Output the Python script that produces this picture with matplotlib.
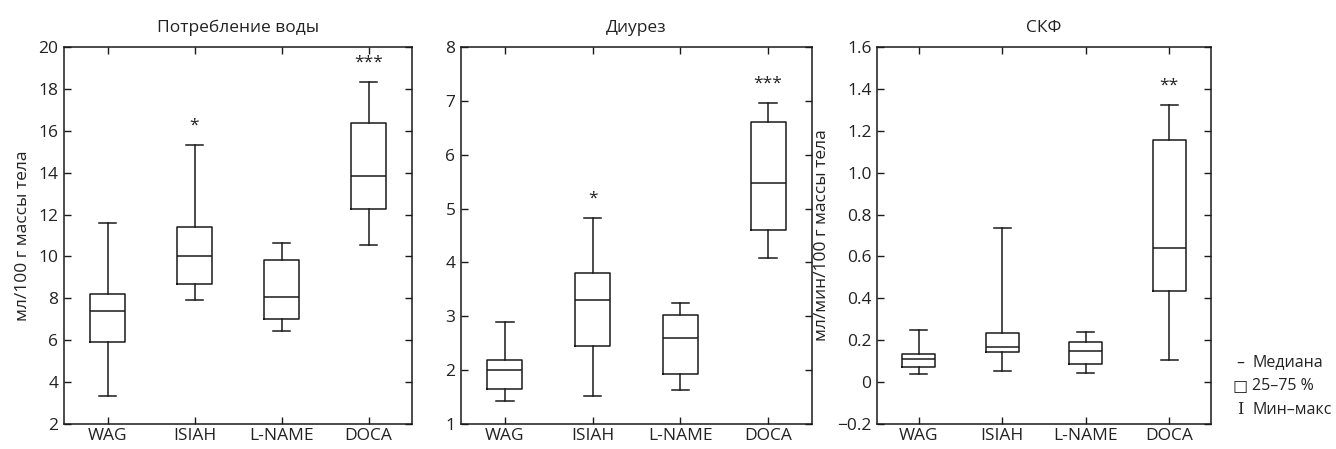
"""
plot.py

Box plots (median, 25-75 %, min-max) for water intake, diuresis and GFR
in four rat groups.
"""

import matplotlib.pyplot as plt
from matplotlib.ticker import FuncFormatter

plt.rcParams['font.family'] = ['Open Sans', 'DejaVu Sans']

groups = ["WAG", "ISIAH", "L-NAME", "DOCA"]

# water intake, ml/100 g body weight: min, q1, median, q3, max
water_min = [3.35, 7.9, 6.45, 10.55]
water_q1 = [5.9, 8.7, 7.0, 12.25]
water_med = [7.4, 10.0, 8.05, 13.85]
water_q3 = [8.2, 11.4, 9.85, 16.35]
water_max = [11.6, 15.3, 10.65, 18.35]
water_stars = ["", "*", "", "***"]

# diuresis
diur_min = [1.42, 1.52, 1.63, 4.08]
diur_q1 = [1.65, 2.45, 1.93, 4.6]
diur_med = [2.0, 3.3, 2.6, 5.47]
diur_q3 = [2.18, 3.8, 3.02, 6.6]
diur_max = [2.9, 4.83, 3.25, 6.96]
diur_stars = ["", "*", "", "***"]

# GFR
gfr_min = [0.04, 0.055, 0.045, 0.105]
gfr_q1 = [0.07, 0.145, 0.085, 0.435]
gfr_med = [0.11, 0.17, 0.15, 0.64]
gfr_q3 = [0.135, 0.235, 0.19, 1.155]
gfr_max = [0.25, 0.735, 0.24, 1.325]
gfr_stars = ["", "", "", "**"]

titles = ["Потребление воды", "Диурез", "СКФ"]
ylabels = ["мл/100 г массы тела", None, "мл/мин/100 г массы тела"]
ylims = [(2, 20), (1, 8), (-0.2, 1.6)]
yticks = [range(2, 21, 2), range(1, 9),
          [-0.2, 0, 0.2, 0.4, 0.6, 0.8, 1.0, 1.2, 1.4, 1.6]]

panels = [
    (water_min, water_q1, water_med, water_q3, water_max, water_stars),
    (diur_min, diur_q1, diur_med, diur_q3, diur_max, diur_stars),
    (gfr_min, gfr_q1, gfr_med, gfr_q3, gfr_max, gfr_stars),
]

# axes positions in figure fractions (from pixel layout)
W, H = 1336, 449
boxes_px = [(64, 412), (461, 812), (877, 1211)]
top_px, bot_px = 47, 424

fig = plt.figure(figsize=(W / 100, H / 100), dpi=100)
lc = "#1a1a1a"
tc = "#222222"

def fmt_gfr(v, pos):
    if abs(v) < 1e-9:
        return "0"
    return f"{v:.1f}".replace("-", "\u2212")

for i, (mn, q1, med, q3, mx, stars) in enumerate(panels):
    l, r = boxes_px[i]
    ax = fig.add_axes([l / W, 1 - bot_px / H, (r - l) / W, (bot_px - top_px) / H])
    stats = []
    for j in range(4):
        stats.append(dict(whislo=mn[j], q1=q1[j], med=med[j], q3=q3[j],
                          whishi=mx[j], fliers=[]))
    ax.bxp(stats, positions=[1, 2, 3, 4], widths=0.4, showfliers=False,
           boxprops=dict(color=lc, lw=1.1),
           medianprops=dict(color=lc, lw=1.1),
           whiskerprops=dict(color=lc, lw=1.1),
           capprops=dict(color=lc, lw=1.1),
           capwidths=0.2)
    lo, hi = ylims[i]
    span = hi - lo
    for j, s in enumerate(stars):
        if s:
            ax.text(j + 1, mx[j] + 0.03 * span, s, ha="center", va="bottom",
                    fontsize=12.5, color=tc)
    ax.set_xlim(0.5, 4.5)
    ax.set_ylim(lo, hi)
    ax.set_yticks(list(yticks[i]))
    if i == 2:
        ax.yaxis.set_major_formatter(FuncFormatter(fmt_gfr))
    ax.set_xticks([1, 2, 3, 4])
    ax.set_xticklabels(groups)
    ax.tick_params(direction="in", top=True, right=True, length=5,
                   width=1, color=lc, labelsize=12.5, labelcolor=tc)
    ax.tick_params(axis="x", pad=3)
    ax.tick_params(axis="y", pad=4)
    for sp in ax.spines.values():
        sp.set_linewidth(1.1)
        sp.set_color(lc)
    ax.set_title(titles[i], fontsize=12.5, pad=11, color=tc)
    if ylabels[i]:
        ax.set_ylabel(ylabels[i], fontsize=12.5, color=tc, labelpad=5)

# legend at the right
leg_sym = ["\u2013", "\u25a1", "I"]
leg_txt = ["Медиана", "25\u201375 %", "Мин\u2013макс"]
leg_y = [362, 386, 410]
for sym, txt, y in zip(leg_sym, leg_txt, leg_y):
    fam = ["DejaVu Serif"] if sym == "I" else ["DejaVu Sans"]
    fig.text(1240 / W, 1 - y / H, sym, ha="center", va="center",
             fontsize=11.5, family=fam, color=tc)
    fig.text(1252 / W, 1 - y / H, txt, ha="left", va="center",
             fontsize=11.5, color=tc)

fig.savefig("out.png", dpi=100)
